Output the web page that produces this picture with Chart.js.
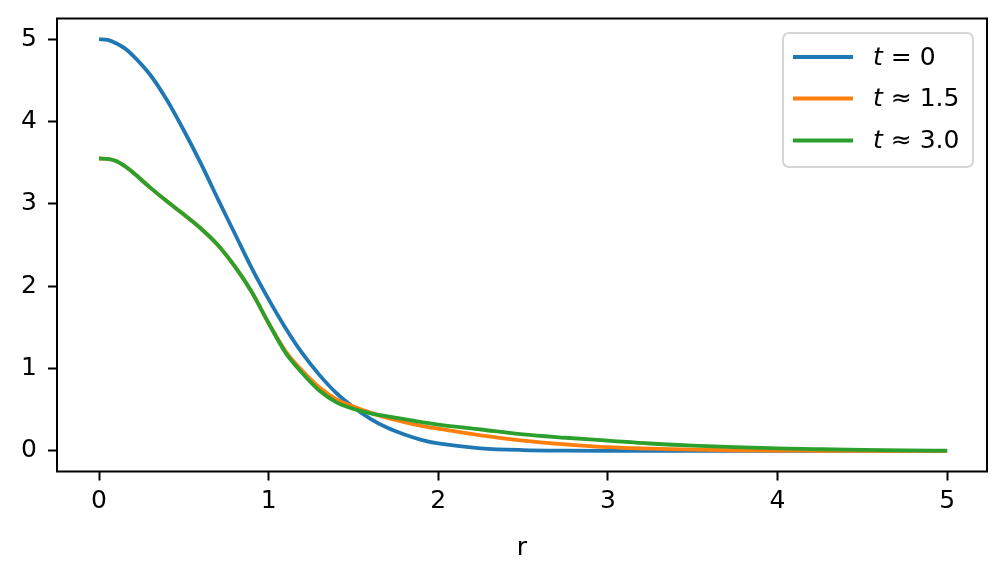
<!DOCTYPE html>
<html>
<head>
<meta charset="utf-8">
<script src="https://cdn.jsdelivr.net/npm/chart.js@4/dist/chart.umd.min.js"></script>
<style>
  html, body { margin: 0; padding: 0; background: #ffffff; }
  #wrap { width: 1007px; height: 579px; position: relative; }
</style>
</head>
<body>
<div id="wrap"><canvas id="c" width="1007" height="579"></canvas></div>
<script>
const rValues = [0, 0.05, 0.1, 0.15, 0.2, 0.3, 0.4, 0.5, 0.6, 0.7, 0.8, 0.9, 1.0, 1.1, 1.2, 1.3, 1.4, 1.5, 1.6, 1.7, 1.8, 1.9, 2.0, 2.25, 2.5, 2.75, 3.0, 3.25, 3.5, 3.75, 4.0, 4.25, 4.5, 4.75, 5.0];
const seriesT0 = [5.00, 4.99, 4.95, 4.89, 4.80, 4.57, 4.26, 3.89, 3.49, 3.06, 2.64, 2.22, 1.84, 1.49, 1.18, 0.92, 0.70, 0.53, 0.39, 0.28, 0.20, 0.135, 0.09, 0.032, 0.01, 0.003, 0.001, 0, 0, 0, 0, 0, 0, 0, 0];
const seriesT15 = [3.55, 3.545, 3.52, 3.46, 3.38, 3.20, 3.03, 2.87, 2.70, 2.50, 2.24, 1.93, 1.55, 1.21, 0.97, 0.77, 0.625, 0.54, 0.465, 0.40, 0.35, 0.305, 0.27, 0.19, 0.125, 0.08, 0.045, 0.027, 0.015, 0.008, 0.004, 0.002, 0.001, 0.0005, 0];
const seriesT30 = [3.55, 3.545, 3.52, 3.46, 3.38, 3.20, 3.03, 2.87, 2.70, 2.50, 2.24, 1.93, 1.55, 1.19, 0.94, 0.73, 0.59, 0.51, 0.455, 0.42, 0.385, 0.35, 0.32, 0.26, 0.20, 0.16, 0.125, 0.09, 0.065, 0.045, 0.03, 0.02, 0.012, 0.006, 0.003];
const seriesLabels = ['t = 0', 't \u2248 1.5', 't \u2248 3.0'];
const seriesColors = ['#1f77b4', '#ff7f0e', '#2ca02c'];
const xTicks = [0, 1, 2, 3, 4, 5];
const yTicks = [0, 1, 2, 3, 4, 5];
const xTitle = 'r';

const FONT = 'DejaVu Sans';
const FS = 25;

function toPoints(ys) { return rValues.map((r, i) => ({ x: r, y: ys[i] })); }

const allSeries = [seriesT0, seriesT15, seriesT30];
const datasets = allSeries.map((s, i) => ({
  label: seriesLabels[i],
  data: toPoints(s),
  borderColor: seriesColors[i],
  backgroundColor: seriesColors[i],
  borderWidth: 3.8,
  pointRadius: 0,
  fill: false,
  cubicInterpolationMode: 'monotone',
  order: 2 - i
}));

const framePlugin = {
  id: 'frame',
  afterDatasetsDraw(chart) {
    const { ctx, chartArea: a } = chart;
    ctx.save();
    ctx.strokeStyle = '#000000';
    ctx.lineWidth = 2;
    ctx.strokeRect(a.left, a.top, a.right - a.left, a.bottom - a.top);
    ctx.restore();
  }
};

function roundRect(ctx, x, y, w, h, r) {
  ctx.beginPath();
  ctx.moveTo(x + r, y);
  ctx.lineTo(x + w - r, y);
  ctx.arcTo(x + w, y, x + w, y + r, r);
  ctx.lineTo(x + w, y + h - r);
  ctx.arcTo(x + w, y + h, x + w - r, y + h, r);
  ctx.lineTo(x + r, y + h);
  ctx.arcTo(x, y + h, x, y + h - r, r);
  ctx.lineTo(x, y + r);
  ctx.arcTo(x, y, x + r, y, r);
  ctx.closePath();
}

const legendPlugin = {
  id: 'mplLegend',
  afterDraw(chart) {
    const { ctx } = chart;
    const bx = 783, by = 33, bw = 190, bh = 134;
    ctx.save();
    roundRect(ctx, bx, by, bw, bh, 6);
    ctx.fillStyle = 'rgba(255,255,255,0.8)';
    ctx.fill();
    ctx.strokeStyle = '#d6d6d6';
    ctx.lineWidth = 2;
    ctx.stroke();
    const rows = [57, 98.5, 140.5];
    chart.data.datasets.forEach((ds, i) => {
      const yy = rows[i];
      ctx.strokeStyle = ds.borderColor;
      ctx.lineWidth = 3.8;
      ctx.beginPath();
      ctx.moveTo(793, yy);
      ctx.lineTo(853, yy);
      ctx.stroke();
      const label = ds.label;
      ctx.fillStyle = '#000000';
      ctx.textBaseline = 'middle';
      ctx.textAlign = 'left';
      ctx.font = 'italic ' + FS + 'px "' + FONT + '"';
      const first = label.charAt(0);
      ctx.fillText(first, 873, yy + 1);
      const w = ctx.measureText(first).width;
      ctx.font = FS + 'px "' + FONT + '"';
      ctx.fillText(label.slice(1), 873 + w, yy + 1);
    });
    ctx.restore();
  }
};

new Chart(document.getElementById('c'), {
  type: 'line',
  data: { datasets },
  plugins: [framePlugin, legendPlugin],
  options: {
    responsive: false,
    animation: false,
    events: [],
    layout: { padding: { left: 0, top: 18.5, right: 20, bottom: 0 } },
    plugins: { legend: { display: false }, tooltip: { enabled: false } },
    scales: {
      x: {
        type: 'linear',
        min: -0.248,
        max: 5.235,
        afterBuildTicks(scale) { scale.ticks = xTicks.map(v => ({ value: v })); },
        afterFit(scale) { scale.height = 107.5; },
        grid: { display: true, drawOnChartArea: false, drawTicks: true, tickLength: 9, tickWidth: 2, tickColor: '#000000' },
        border: { display: false },
        ticks: { color: '#000000', font: { family: FONT, size: FS }, padding: 6, maxRotation: 0, autoSkip: false },
        title: { display: true, text: xTitle, color: '#000000', font: { family: FONT, size: FS }, padding: { top: 6, bottom: 16 } }
      },
      y: {
        type: 'linear',
        min: -0.25,
        max: 5.25,
        afterBuildTicks(scale) { scale.ticks = yTicks.map(v => ({ value: v })); },
        afterFit(scale) { scale.width = 57; scale.paddingTop = 0; scale.paddingBottom = 0; },
        grid: { display: true, drawOnChartArea: false, drawTicks: true, tickLength: 9, tickWidth: 2, tickColor: '#000000' },
        border: { display: false },
        ticks: { color: '#000000', font: { family: FONT, size: FS, lineHeight: 0.5 }, padding: 11 }
      }
    }
  }
});
</script>
</body>
</html>
